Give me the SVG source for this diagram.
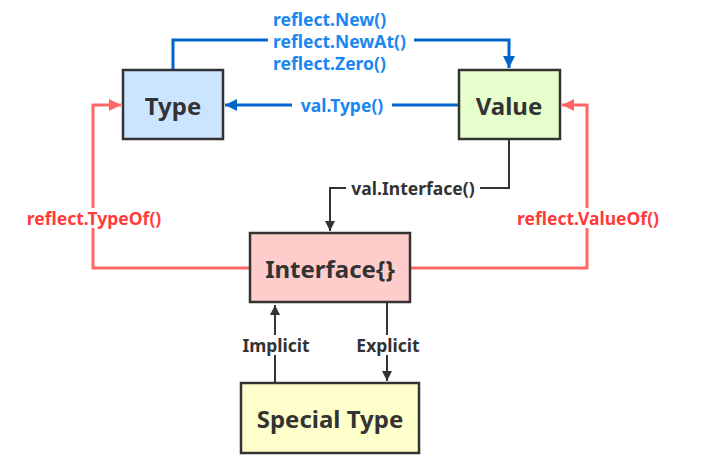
<svg xmlns="http://www.w3.org/2000/svg" width="701" height="469" viewBox="0 0 701 469">
<defs>
<style>
.box{stroke:#333;stroke-width:2.5}
.nl{font-family:"Noto Sans",sans-serif;font-weight:bold;font-size:24px;fill:#333;text-anchor:middle;dominant-baseline:central}
.lb{font-family:"Noto Sans",sans-serif;font-weight:bold;font-size:17.5px;text-anchor:middle;dominant-baseline:central}
.blue{stroke:#0066CC;stroke-width:3;fill:none}
.red{stroke:#FF6666;stroke-width:3;fill:none}
.blk{stroke:#333;stroke-width:2;fill:none}
.tb{fill:#1A86F0}
.tr{fill:#FF3B3B}
.tk{fill:#333}
</style>
<marker id="ab" viewBox="0 0 10 10" refX="10" refY="5" markerWidth="4.5" markerHeight="4" orient="auto" markerUnits="strokeWidth"><path d="M0,0 L10,5 L0,10 z" fill="#0066CC"/></marker>
<marker id="ar" viewBox="0 0 10 10" refX="10" refY="5" markerWidth="4.5" markerHeight="4" orient="auto" markerUnits="strokeWidth"><path d="M0,0 L10,5 L0,10 z" fill="#FF6666"/></marker>
<marker id="ak" viewBox="0 0 10 10" refX="10" refY="5" markerWidth="6" markerHeight="5" orient="auto" markerUnits="strokeWidth"><path d="M0,0 L10,5 L0,10 z" fill="#333"/></marker>
</defs>
<rect width="701" height="469" fill="#fff"/>
<g id="connectors">
<path class="blue" d="M173,70 V40 H509 V68" marker-end="url(#ab)"/>
<rect x="268" y="10" width="146" height="66" fill="#fff"/>
<text class="lb tb" x="273" y="19" style="text-anchor:start">reflect.New()</text>
<text class="lb tb" x="273" y="41" style="text-anchor:start">reflect.NewAt()</text>
<text class="lb tb" x="273" y="63" style="text-anchor:start">reflect.Zero()</text>
<path class="blue" d="M458,105 H225" marker-end="url(#ab)"/>
<rect x="292" y="95" width="100" height="20" fill="#fff"/>
<text class="lb tb" x="342" y="105">val.Type()</text>
<path class="red" d="M250,268 H93 V105 H121" marker-end="url(#ar)"/>
<rect x="18" y="208" width="152" height="20" fill="#fff"/>
<text class="lb tr" x="94" y="218">reflect.TypeOf()</text>
<path class="red" d="M410,268 H587 V105 H562" marker-end="url(#ar)"/>
<rect x="508" y="208" width="160" height="20" fill="#fff"/>
<text class="lb tr" x="588" y="218">reflect.ValueOf()</text>
<path class="blk" d="M509,140 V188 H330 V231" marker-end="url(#ak)"/>
<rect x="346" y="178" width="134" height="20" fill="#fff"/>
<text class="lb tk" x="413" y="188">val.Interface()</text>
<path class="blk" d="M275,383 V305" marker-end="url(#ak)"/>
<path class="blk" d="M387,303 V381" marker-end="url(#ak)"/>
<rect x="238" y="335" width="76" height="20" fill="#fff"/>
<text class="lb tk" x="276" y="345">Implicit</text>
<rect x="350" y="335" width="76" height="20" fill="#fff"/>
<text class="lb tk" x="388" y="345">Explicit</text>
</g>
<g id="type"><rect class="box" x="123" y="70" width="100" height="69" fill="#CCE5FF"/><text class="nl" x="173" y="105">Type</text></g>
<g id="value"><rect class="box" x="459" y="70" width="101" height="69" fill="#E6FFCC"/><text class="nl" x="509" y="105">Value</text></g>
<g id="interface"><rect class="box" x="250" y="233" width="160" height="69" fill="#FFCCCC"/><text class="nl" x="330" y="268">Interface{}</text></g>
<g id="special"><rect class="box" x="241" y="383" width="178" height="70" fill="#FFFFCC"/><text class="nl" x="330" y="418">Special Type</text></g>
</svg>
